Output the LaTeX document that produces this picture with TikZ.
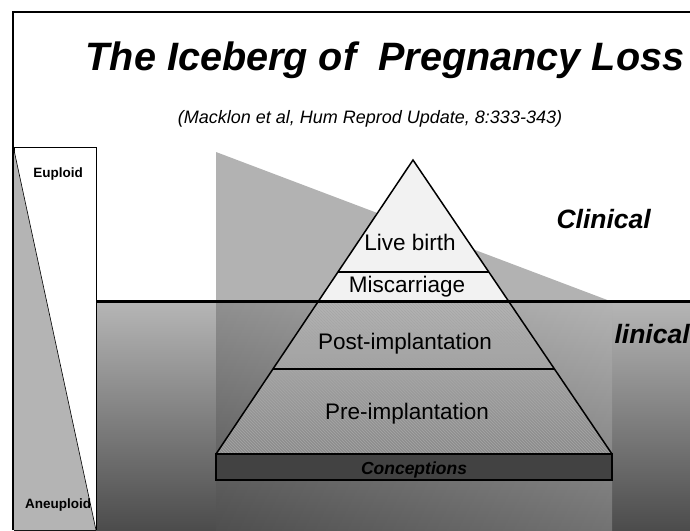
\documentclass[tikz,border=0pt]{standalone}
\usepackage{fontspec}
\setmainfont{Liberation Sans}
\usepackage{xcolor}
\usetikzlibrary{positioning, calc, patterns}

\definecolor{seatop}{HTML}{B6B6B6}
\definecolor{seabottom}{HTML}{4C4C4C}
\definecolor{shadowtop}{HTML}{A8A8A8}
\definecolor{shadowbottom}{HTML}{5C5C5C}
\definecolor{wedgegray}{HTML}{B2B2B2}
\definecolor{sidegray}{HTML}{B4B4B4}
\definecolor{tipwhite}{HTML}{F2F2F2}
\definecolor{bodytop}{HTML}{B4B4B4}
\definecolor{bodybottom}{HTML}{8A8A8A}
\definecolor{bandgray}{HTML}{424242}

\begin{document}
\begin{tikzpicture}[
    x=1pt, y=-1pt,
    title/.style={font=\fontsize{39.6}{44}\selectfont\bfseries\itshape, anchor=base},
    source/.style={font=\fontsize{18}{21}\selectfont\itshape, anchor=base},
    layer/.style={font=\fontsize{22.5}{26}\selectfont, anchor=base},
    side/.style={font=\fontsize{13.5}{16}\selectfont\bfseries, anchor=base},
    level/.style={font=\fontsize{26.5}{32}\selectfont\bfseries\itshape, anchor=base west},
    outline/.style={draw=black, line width=1.5pt}
]
\useasboundingbox (0,0) rectangle (690,530);

% frame
\draw[line width=2pt] (13,530) -- (13,12) -- (690,12);

% headings
\node[title] (head) at (385,70) {The Iceberg of \ Pregnancy Loss};
\node[source] (ref) at (370,123) {(Macklon et al, Hum Reprod Update, 8:333-343)};

% euploid / aneuploid column
\draw[fill=white, line width=1pt] (14,147) rectangle (96,530);
\fill[sidegray] (14,150) -- (96,530) -- (14,530) -- cycle;
\draw[line width=0.6pt] (14,150) -- (96,530);
\node[side] (eu) at (58,177) {Euploid};
\node[side] (aneu) at (58,508) {Aneuploid};

% sea below the water line
\shade[top color=seatop, bottom color=seabottom] (96,301) rectangle (690,530);
\shade[top color=shadowtop, bottom color=shadowbottom] (216,301) rectangle (612,530);
\shade[left color=black, right color=white, opacity=0.14] (216,301) rectangle (612,530);
\draw[line width=1pt] (96,301) -- (96,530);

% wedge above the water
\fill[wedgegray] (216,152) -- (610,301) -- (216,301) -- cycle;

% pyramid
\coordinate (apex) at (413,160);
\coordinate (bl) at (216,454);
\coordinate (br) at (612,454);
\coordinate (wl) at ($(apex)!0.4796!(bl)$);
\coordinate (wr) at ($(apex)!0.4796!(br)$);
\fill[tipwhite] (apex) -- (wl) -- (wr) -- cycle;
\shade[top color=bodytop, bottom color=bodybottom] (wl) -- (bl) -- (br) -- (wr) -- cycle;
\fill[pattern=north west lines, pattern color=gray!70] (wl) -- (bl) -- (br) -- (wr) -- cycle;
\draw[outline] (bl) -- (apex) -- (br);
\draw[outline] ($(apex)!0.381!(bl)$) -- ($(apex)!0.381!(br)$);
\draw[outline] ($(apex)!0.711!(bl)$) -- ($(apex)!0.711!(br)$);

% water line
\draw[line width=3pt] (96,301) -- (690,301);

% conceptions band
\draw[outline, fill=bandgray] (216,454) rectangle (612,480);
\node[font=\fontsize{17.5}{20}\selectfont\bfseries\itshape, text=black, anchor=base] (conc) at (414,474) {Conceptions};

\node[layer] (live) at (410,250) {Live birth};
\node[layer] (misc) at (407,292) {Miscarriage};
\node[layer] (post) at (405,349) {Post-implantation};
\node[layer] (pre) at (407,419) {Pre-implantation};

\node[level] (clin) at (553,228) {Clinical};
\node[level] (preclin) at (611,343) {linical};
\end{tikzpicture}
\end{document}
